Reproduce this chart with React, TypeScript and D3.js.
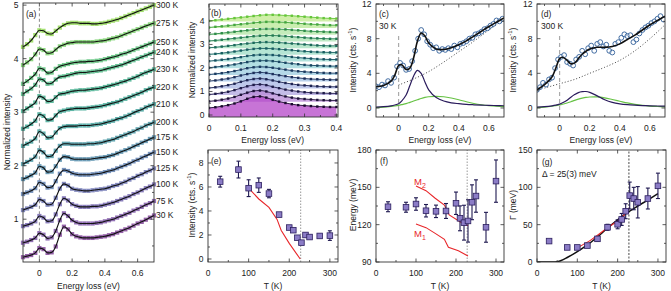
import React from "react";
import * as d3 from "d3";

const FONT = "'Liberation Sans', Arial, Helvetica, sans-serif";

// ---------------- Panel (a): waterfall of RIXS spectra ----------------
const aEnergy = [-0.1, -0.075, -0.05, -0.025, 0, 0.025, 0.05, 0.075, 0.1, 0.125, 0.15, 0.175, 0.2, 0.225, 0.25, 0.275, 0.3, 0.325, 0.35, 0.375, 0.4, 0.425, 0.45, 0.475, 0.5, 0.525, 0.55, 0.575, 0.6, 0.625, 0.65, 0.675, 0.7];
const aTemps = ["30 K", "75 K", "100 K", "125 K", "150 K", "175 K", "200 K", "210 K", "220 K", "230 K", "240 K", "250 K", "275 K", "300 K"];
const aOffsets = [0.29, 0.56, 0.87, 1.17, 1.47, 1.75, 2.03, 2.37, 2.69, 3.02, 3.34, 3.53, 3.88, 4.22];
const aS30 = [0, 0.02, 0.04, 0.08, 0.17, 0.15, 0.08, 0.09, 0.2, 0.42, 0.57, 0.52, 0.43, 0.39, 0.37, 0.36, 0.36, 0.36, 0.37, 0.38, 0.39, 0.41, 0.43, 0.46, 0.49, 0.52, 0.55, 0.59, 0.63, 0.66, 0.7, 0.74, 0.78];
const aS75 = [0, 0.02, 0.05, 0.09, 0.18, 0.15, 0.08, 0.1, 0.22, 0.42, 0.55, 0.5, 0.42, 0.38, 0.36, 0.36, 0.36, 0.36, 0.37, 0.38, 0.4, 0.42, 0.44, 0.47, 0.5, 0.53, 0.56, 0.6, 0.63, 0.67, 0.71, 0.74, 0.78];
const aS100 = [0, 0.02, 0.05, 0.09, 0.19, 0.16, 0.09, 0.1, 0.22, 0.41, 0.52, 0.48, 0.41, 0.38, 0.36, 0.36, 0.36, 0.37, 0.37, 0.38, 0.4, 0.42, 0.44, 0.47, 0.5, 0.53, 0.56, 0.6, 0.63, 0.67, 0.71, 0.74, 0.78];
const aS125 = [0, 0.03, 0.06, 0.1, 0.2, 0.17, 0.1, 0.11, 0.23, 0.4, 0.49, 0.46, 0.4, 0.38, 0.37, 0.36, 0.36, 0.37, 0.38, 0.39, 0.4, 0.42, 0.45, 0.47, 0.5, 0.53, 0.57, 0.6, 0.64, 0.67, 0.71, 0.74, 0.78];
const aS150 = [0, 0.03, 0.06, 0.11, 0.22, 0.19, 0.12, 0.13, 0.24, 0.38, 0.45, 0.43, 0.39, 0.37, 0.36, 0.36, 0.36, 0.37, 0.38, 0.39, 0.41, 0.43, 0.45, 0.48, 0.51, 0.54, 0.57, 0.61, 0.64, 0.68, 0.71, 0.75, 0.78];
const aS175 = [0, 0.03, 0.07, 0.12, 0.24, 0.21, 0.13, 0.14, 0.24, 0.36, 0.42, 0.41, 0.38, 0.37, 0.37, 0.37, 0.37, 0.38, 0.39, 0.4, 0.41, 0.43, 0.45, 0.48, 0.51, 0.54, 0.57, 0.61, 0.64, 0.68, 0.71, 0.75, 0.78];
const aS200 = [0, 0.04, 0.08, 0.14, 0.26, 0.22, 0.14, 0.15, 0.25, 0.34, 0.38, 0.38, 0.37, 0.37, 0.37, 0.37, 0.38, 0.38, 0.39, 0.4, 0.42, 0.44, 0.46, 0.49, 0.52, 0.55, 0.58, 0.61, 0.65, 0.68, 0.72, 0.75, 0.78];
const aS210 = [0, 0.04, 0.08, 0.14, 0.27, 0.23, 0.15, 0.16, 0.25, 0.33, 0.36, 0.37, 0.37, 0.37, 0.38, 0.38, 0.38, 0.39, 0.4, 0.41, 0.43, 0.45, 0.47, 0.5, 0.52, 0.55, 0.58, 0.62, 0.65, 0.68, 0.72, 0.75, 0.78];
const aS220 = [0, 0.04, 0.09, 0.15, 0.27, 0.24, 0.16, 0.17, 0.25, 0.32, 0.34, 0.36, 0.37, 0.38, 0.38, 0.38, 0.39, 0.4, 0.41, 0.42, 0.44, 0.46, 0.48, 0.5, 0.53, 0.56, 0.59, 0.62, 0.65, 0.68, 0.72, 0.75, 0.78];
const aS230 = [0, 0.05, 0.1, 0.16, 0.28, 0.25, 0.18, 0.19, 0.26, 0.32, 0.33, 0.35, 0.37, 0.38, 0.39, 0.39, 0.4, 0.41, 0.42, 0.43, 0.45, 0.47, 0.49, 0.51, 0.54, 0.56, 0.59, 0.62, 0.65, 0.69, 0.72, 0.75, 0.78];
const aS240 = [0, 0.05, 0.1, 0.17, 0.28, 0.26, 0.19, 0.2, 0.27, 0.32, 0.33, 0.35, 0.37, 0.39, 0.4, 0.4, 0.41, 0.42, 0.43, 0.44, 0.46, 0.48, 0.5, 0.52, 0.54, 0.57, 0.6, 0.63, 0.66, 0.69, 0.72, 0.75, 0.78];
const aS250 = [0, 0.05, 0.11, 0.18, 0.29, 0.27, 0.2, 0.21, 0.28, 0.33, 0.35, 0.37, 0.39, 0.4, 0.41, 0.41, 0.42, 0.42, 0.43, 0.44, 0.46, 0.48, 0.5, 0.52, 0.55, 0.57, 0.6, 0.63, 0.66, 0.69, 0.72, 0.75, 0.78];
const aS275 = [0, 0.05, 0.11, 0.2, 0.3, 0.28, 0.22, 0.23, 0.29, 0.35, 0.38, 0.41, 0.42, 0.43, 0.43, 0.43, 0.43, 0.43, 0.44, 0.45, 0.46, 0.48, 0.5, 0.52, 0.55, 0.58, 0.61, 0.64, 0.67, 0.7, 0.73, 0.76, 0.78];
const aS300 = [0, 0.05, 0.12, 0.22, 0.31, 0.3, 0.25, 0.24, 0.3, 0.36, 0.41, 0.44, 0.45, 0.45, 0.44, 0.44, 0.44, 0.43, 0.43, 0.44, 0.45, 0.47, 0.49, 0.51, 0.54, 0.57, 0.6, 0.63, 0.66, 0.69, 0.72, 0.75, 0.78];
const aSpectra = [aS30, aS75, aS100, aS125, aS150, aS175, aS200, aS210, aS220, aS230, aS240, aS250, aS275, aS300];

// ---------------- Panel (b): subtracted spectra ----------------
const bEnergy = [0, 0.02, 0.04, 0.06, 0.08, 0.1, 0.12, 0.14, 0.16, 0.18, 0.2, 0.22, 0.24, 0.26, 0.28, 0.3, 0.32, 0.34, 0.36, 0.38, 0.4];
const bOffsets = [0.3, 0.58, 0.87, 1.15, 1.44, 1.72, 2.01, 2.29, 2.58, 2.86, 3.15, 3.43, 3.72, 4.0];
const bS30 = [0, 0.03, 0.07, 0.12, 0.19, 0.28, 0.39, 0.47, 0.49, 0.44, 0.35, 0.27, 0.21, 0.16, 0.12, 0.1, 0.08, 0.06, 0.05, 0.04, 0.04];
const bS75 = [0, 0.03, 0.07, 0.12, 0.19, 0.28, 0.37, 0.44, 0.46, 0.42, 0.34, 0.27, 0.21, 0.16, 0.12, 0.1, 0.08, 0.06, 0.05, 0.04, 0.04];
const bS100 = [0, 0.03, 0.07, 0.12, 0.19, 0.27, 0.35, 0.41, 0.43, 0.4, 0.33, 0.27, 0.21, 0.17, 0.13, 0.1, 0.08, 0.07, 0.06, 0.05, 0.05];
const bS125 = [0, 0.03, 0.07, 0.12, 0.18, 0.26, 0.33, 0.38, 0.4, 0.37, 0.32, 0.26, 0.21, 0.17, 0.13, 0.11, 0.09, 0.07, 0.06, 0.05, 0.05];
const bS150 = [0, 0.03, 0.07, 0.11, 0.17, 0.24, 0.3, 0.35, 0.37, 0.35, 0.3, 0.25, 0.21, 0.17, 0.14, 0.11, 0.09, 0.08, 0.07, 0.06, 0.06];
const bS175 = [0, 0.03, 0.06, 0.1, 0.15, 0.21, 0.27, 0.31, 0.33, 0.32, 0.29, 0.25, 0.21, 0.17, 0.14, 0.12, 0.1, 0.08, 0.07, 0.06, 0.06];
const bS200 = [0, 0.03, 0.06, 0.1, 0.14, 0.19, 0.24, 0.28, 0.3, 0.3, 0.28, 0.25, 0.21, 0.18, 0.15, 0.12, 0.1, 0.09, 0.08, 0.07, 0.07];
const bS210 = [0, 0.03, 0.06, 0.09, 0.13, 0.17, 0.22, 0.25, 0.27, 0.27, 0.26, 0.24, 0.21, 0.18, 0.15, 0.13, 0.11, 0.09, 0.08, 0.07, 0.07];
const bS220 = [0, 0.02, 0.05, 0.08, 0.12, 0.16, 0.2, 0.23, 0.25, 0.25, 0.24, 0.22, 0.2, 0.18, 0.15, 0.13, 0.11, 0.1, 0.09, 0.08, 0.08];
const bS230 = [0, 0.02, 0.05, 0.08, 0.11, 0.15, 0.18, 0.21, 0.23, 0.24, 0.23, 0.22, 0.2, 0.18, 0.16, 0.14, 0.12, 0.1, 0.09, 0.08, 0.08];
const bS240 = [0, 0.02, 0.05, 0.08, 0.11, 0.14, 0.17, 0.2, 0.22, 0.23, 0.23, 0.22, 0.2, 0.18, 0.16, 0.14, 0.12, 0.11, 0.1, 0.09, 0.09];
const bS250 = [0, 0.02, 0.05, 0.08, 0.11, 0.14, 0.17, 0.2, 0.22, 0.23, 0.23, 0.22, 0.21, 0.19, 0.17, 0.15, 0.13, 0.12, 0.11, 0.1, 0.09];
const bS275 = [0, 0.03, 0.05, 0.08, 0.11, 0.14, 0.17, 0.2, 0.22, 0.24, 0.24, 0.23, 0.22, 0.2, 0.18, 0.16, 0.14, 0.13, 0.11, 0.1, 0.1];
const bS300 = [0, 0.03, 0.06, 0.09, 0.12, 0.15, 0.18, 0.21, 0.24, 0.26, 0.26, 0.25, 0.23, 0.22, 0.2, 0.18, 0.16, 0.14, 0.12, 0.11, 0.1];
const bSpectra = [bS30, bS75, bS100, bS125, bS150, bS175, bS200, bS210, bS220, bS230, bS240, bS250, bS275, bS300];

// ---------------- Panels (c), (d): fits ----------------
const cEnergy = [-0.15, -0.13, -0.11, -0.09, -0.07, -0.05, -0.03, -0.01, 0.01, 0.03, 0.05, 0.07, 0.09, 0.11, 0.13, 0.15, 0.17, 0.19, 0.21, 0.23, 0.25, 0.27, 0.29, 0.31, 0.33, 0.35, 0.37, 0.39, 0.41, 0.43, 0.45, 0.47, 0.49, 0.51, 0.53, 0.55, 0.57, 0.59, 0.61, 0.63, 0.65, 0.67, 0.69];
const cCounts30 = [2.5, 2.4, 2.7, 2.6, 3.1, 2.9, 3.5, 4.8, 5.2, 4.9, 4.4, 4.5, 5.4, 6.6, 8.0, 9.0, 8.5, 7.7, 7.3, 6.9, 7.0, 6.6, 6.8, 6.7, 6.9, 6.8, 7.2, 7.0, 7.4, 7.5, 7.7, 8.0, 8.1, 8.5, 8.6, 8.8, 9.1, 9.2, 9.5, 9.7, 10.1, 10.0, 10.3];
const dCounts300 = [2.1, 2.4, 2.9, 2.7, 3.3, 3.5, 4.6, 5.6, 5.9, 6.1, 5.3, 5.1, 4.9, 5.6, 5.9, 6.6, 6.2, 6.9, 7.2, 6.6, 7.4, 7.6, 7.1, 7.3, 6.6, 6.4, 7.4, 7.6, 8.1, 8.5, 8.3, 8.4, 7.6, 7.9, 8.6, 9.0, 9.3, 9.5, 9.8, 10.0, 10.3, 10.6, 10.2];
const fitEnergy = [-0.15, -0.1, -0.05, -0.025, 0, 0.02, 0.05, 0.075, 0.1, 0.125, 0.15, 0.175, 0.2, 0.25, 0.3, 0.35, 0.4, 0.45, 0.5, 0.55, 0.6, 0.65, 0.7];
const cFit = [2.45, 2.6, 3.1, 3.8, 4.9, 5.0, 4.45, 4.6, 5.8, 7.7, 8.65, 8.3, 7.5, 6.8, 6.75, 6.95, 7.3, 7.75, 8.3, 8.85, 9.4, 9.9, 10.4];
const cMagnon = [0.1, 0.15, 0.25, 0.35, 0.5, 0.8, 1.5, 2.6, 3.7, 4.35, 4.0, 3.0, 2.1, 1.2, 0.8, 0.6, 0.5, 0.42, 0.37, 0.33, 0.3, 0.28, 0.26];
const cBroad = [0.05, 0.1, 0.18, 0.23, 0.3, 0.38, 0.5, 0.65, 0.8, 0.95, 1.1, 1.22, 1.3, 1.35, 1.3, 1.15, 0.95, 0.72, 0.52, 0.37, 0.27, 0.2, 0.15];
const cBgEnergy = [0, 0.1, 0.2, 0.3, 0.4, 0.5, 0.6, 0.7];
const cBg = [2.65, 3.35, 4.2, 5.3, 6.5, 7.7, 9.0, 10.2];
const dFit = [2.1, 2.7, 3.6, 4.6, 5.7, 5.85, 5.5, 5.1, 5.2, 5.7, 6.2, 6.55, 6.8, 7.0, 7.0, 7.1, 7.4, 7.9, 8.4, 9.0, 9.6, 10.1, 10.6];
const dMagnon = [0.1, 0.15, 0.25, 0.33, 0.45, 0.6, 0.9, 1.25, 1.55, 1.78, 1.88, 1.9, 1.8, 1.4, 0.95, 0.65, 0.48, 0.38, 0.32, 0.28, 0.25, 0.23, 0.22];
const dBroad = [0.05, 0.1, 0.2, 0.27, 0.35, 0.43, 0.57, 0.72, 0.88, 1.02, 1.13, 1.22, 1.27, 1.28, 1.17, 0.98, 0.78, 0.58, 0.42, 0.3, 0.22, 0.17, 0.13];
const dBgEnergy = [-0.1, 0, 0.1, 0.2, 0.3, 0.4, 0.5, 0.6, 0.7];
const dBg = [2.3, 2.8, 3.3, 4.0, 4.7, 5.5, 6.6, 8.0, 9.6];

// ---------------- Panels (e), (f), (g): temperature dependence ----------------
const tempsK = [30, 75, 100, 125, 150, 175, 200, 210, 220, 230, 240, 250, 275, 300];
const eIntensity = [6.44, 7.45, 5.9, 6.15, 5.45, 3.7, 2.62, 2.4, 1.77, 1.36, 2.0, 1.83, 1.92, 1.95];
const eErr = [0.45, 0.7, 0.7, 0.6, 0.35, 0.15, 0.15, 0.15, 0.15, 0.15, 0.15, 0.15, 0.15, 0.4];
const fEnergy = [134.4, 134, 136.6, 131.2, 130.7, 131, 137.2, 125.1, 121.6, 123, 138, 143, 117.9, 155];
const fErr = [4, 4, 5, 5, 5, 6, 9, 10, 14, 17, 14, 13, 12, 17];
const gGamma = [28, 19.5, 19.5, 22, 31, 46.5, 50.5, 57, 68, 89, 85, 80, 85, 102];
const gErr = [2, 1.5, 1.5, 2, 3, 4, 6, 8, 10, 18, 15, 21, 14, 17];
const eModelT = [100, 125, 150, 170, 180, 200, 227];
const eModelV = [5.9, 5.0, 4.3, 3.3, 2.4, 1.3, 0];
const fM2T = [100, 125, 148, 171, 183, 210, 230];
const fM2V = [151, 147.3, 141.2, 135.8, 127.8, 122.4, 119.2];
const fM1T = [100, 125, 148, 171, 181, 206, 230];
const fM1V = [120.5, 117.6, 113, 108.2, 101.8, 99, 94.8];
const gFitT = [0, 40, 50, 60, 75, 100, 125, 150, 175, 200, 225, 250, 275, 300];
const gFitV = [0, 0, 0.5, 2, 6, 14, 23, 33.5, 45.5, 56.5, 66.5, 75, 83, 91.5];
const gRedT = [100, 135, 175, 218, 230];
const gRedV = [19, 30, 46, 64, 73];
const tcK = 228;

// tick values
const aXMajor = [0, 0.2, 0.4, 0.6];
const aXMinor = [0.1, 0.3, 0.5];
const aYMajor = [1, 2, 3, 4, 5];
const aYMinor = [0.5, 1.5, 2.5, 3.5, 4.5];
const bXMajor = [0, 0.1, 0.2, 0.3, 0.4];
const bXMinor = [0.05, 0.15, 0.25, 0.35];
const bYMajor = [0, 1, 2, 3, 4];
const bYMinor = [0.5, 1.5, 2.5, 3.5, 4.5];
const cdXMajor = [0, 0.2, 0.4, 0.6];
const cdXMinor = [-0.1, 0.1, 0.3, 0.5];
const cdYMajor = [0, 4, 8, 12];
const cdYMinor = [2, 6, 10];
const tXMajor = [0, 100, 200, 300];
const tXMinor = [50, 150, 250];
const eYMajor = [0, 2, 4, 6, 8];
const eYMinor = [1, 3, 5, 7];
const fYMajor = [90, 120, 150, 180];
const fYMinor = [105, 135, 165];
const gYMajor = [0, 50, 100, 150];
const gYMinor = [25, 75, 125];

// styles
const aColors = ["#9562a8", "#9270b4", "#8a7ebc", "#848abf", "#7894bd", "#6e9eb8", "#66a8b2", "#60b0ac", "#5eb6a6", "#62bca0", "#6ac498", "#76cc90", "#8cd680", "#a4e070"];
const bFills = ["#b446c8", "#b98ad8", "#b0a6e0", "#a8b6e4", "#a2c2e4", "#9ccce0", "#98d4da", "#98d8d0", "#9cdcc6", "#a2e0bc", "#a8e2b0", "#b0e6a4", "#b8e896", "#c0ea8c"];
const bDots = ["#1a0a2e", "#1c1038", "#1e1a48", "#1e2452", "#1c2e5a", "#1a3a60", "#184662", "#165262", "#165e60", "#1a6a5a", "#227a52", "#2e8c48", "#44a63e", "#66c63a"];

type Sc = d3.ScaleLinear<number, number>;

// scales
const xa = d3.scaleLinear().domain([-0.1, 0.7]).range([23, 154]);
const ya = d3.scaleLinear().domain([0.2, 5.04]).range([262, 3]);
const xb = d3.scaleLinear().domain([0, 0.405]).range([209, 338]);
const yb = d3.scaleLinear().domain([-0.085, 4.72]).range([117, 4]);
const xc = d3.scaleLinear().domain([-0.15, 0.7]).range([376, 504]);
const yc = d3.scaleLinear().domain([-1.04, 12]).range([117, 4]);
const xd = d3.scaleLinear().domain([-0.15, 0.7]).range([537, 665]);
const yd = yc;
const xe = d3.scaleLinear().domain([0, 320]).range([208, 338]);
const ye = d3.scaleLinear().domain([-0.25, 9.08]).range([262, 150]);
const xf = d3.scaleLinear().domain([0, 320]).range([376, 504]);
const yf = d3.scaleLinear().domain([90, 180]).range([262, 150]);
const xg = d3.scaleLinear().domain([0, 320]).range([537, 666]);
const yg = d3.scaleLinear().domain([0, 150]).range([262, 150]);

function linePath(xs: Sc, ys: Sc, X: number[], Y: number[], curve: any = d3.curveMonotoneX) {
  return d3.line<number>().x((_, i) => xs(X[i])).y((d) => ys(d)).curve(curve)(Y) || "";
}
function areaPath(xs: Sc, ys: Sc, X: number[], Y: number[], base: number) {
  return d3.area<number>().x((_, i) => xs(X[i])).y0(ys(base)).y1((d) => ys(d)).curve(d3.curveMonotoneX)(Y) || "";
}

function Frame(p: { xs: Sc; ys: Sc; xMajor: number[]; xMinor: number[]; yMajor: number[]; yMinor: number[]; yLabels?: boolean }) {
  const { xs, ys } = p;
  const [xl, xr] = xs.range();
  const [yB, yT] = ys.range();
  const ticks: React.ReactNode[] = [];
  const labels: React.ReactNode[] = [];
  const M = 3.5, m = 2;
  const addX = (v: number, L: number, k: string) => {
    const x = xs(v);
    ticks.push(<line key={"xb" + k} x1={x} x2={x} y1={yB} y2={yB - L} />);
    ticks.push(<line key={"xt" + k} x1={x} x2={x} y1={yT} y2={yT + L} />);
  };
  const addY = (v: number, L: number, k: string) => {
    const y = ys(v);
    ticks.push(<line key={"yl" + k} x1={xl} x2={xl + L} y1={y} y2={y} />);
    ticks.push(<line key={"yr" + k} x1={xr} x2={xr - L} y1={y} y2={y} />);
  };
  p.xMajor.forEach((v, i) => {
    addX(v, M, "M" + i);
    labels.push(<text key={"xl" + i} x={xs(v)} y={yB + 13.5} textAnchor="middle">{String(v)}</text>);
  });
  p.xMinor.forEach((v, i) => addX(v, m, "m" + i));
  p.yMajor.forEach((v, i) => {
    addY(v, M, "M" + i);
    if (p.yLabels !== false) labels.push(<text key={"yl" + i} x={xl - 4.5} y={ys(v) + 3} textAnchor="end">{String(v)}</text>);
  });
  p.yMinor.forEach((v, i) => addY(v, m, "m" + i));
  return (
    <g>
      <g stroke="#333" strokeWidth={0.8}>{ticks}</g>
      <rect x={xl} y={yT} width={xr - xl} height={yB - yT} fill="none" stroke="#333" strokeWidth={0.9} />
      <g fontSize={8.5} fill="#222">{labels}</g>
    </g>
  );
}

function YLabel({ x, y, children }: { x: number; y: number; children: React.ReactNode }) {
  return (
    <text transform={`translate(${x},${y}) rotate(-90)`} textAnchor="middle" dominantBaseline="central" fontSize={8.5} fill="#222">
      {children}
    </text>
  );
}

function IntensityLabel() {
  return (
    <>
      Intensity (cts. s<tspan dy={-3} fontSize={6}>-1</tspan><tspan dy={3}>)</tspan>
    </>
  );
}

function Square({ x, y, s, fill, stroke, sw = 0.8 }: any) {
  return <rect x={x - s / 2} y={y - s / 2} width={s} height={s} fill={fill} stroke={stroke} strokeWidth={sw} />;
}

function TPanel({ xs, ys, vals, errs }: { xs: Sc; ys: Sc; vals: number[]; errs: number[] }) {
  return (
    <g>
      {tempsK.map((t, i) => {
        const x = xs(t);
        const y1 = ys(vals[i] - errs[i]);
        const y2 = ys(vals[i] + errs[i]);
        return (
          <g key={i} stroke="#1e1850" strokeWidth={1.1}>
            <line x1={x} x2={x} y1={y1} y2={y2} />
            <line x1={x - 2} x2={x + 2} y1={y1} y2={y1} />
            <line x1={x - 2} x2={x + 2} y1={y2} y2={y2} />
          </g>
        );
      })}
      {tempsK.map((t, i) => (
        <Square key={"s" + i} x={xs(t)} y={ys(vals[i])} s={5.6} fill="#8b7cc6" stroke="#2c1f5e" sw={0.8} />
      ))}
    </g>
  );
}

function FitPanel(p: { xs: Sc; ys: Sc; counts: number[]; fit: number[]; mag: number[]; broad: number[]; bgE: number[]; bg: number[]; id: string }) {
  const { xs, ys } = p;
  const [xl, xr] = xs.range();
  const [yB, yT] = ys.range();
  return (
    <g>
      <clipPath id={p.id}><rect x={xl} y={yT} width={xr - xl} height={yB - yT} /></clipPath>
      <g clipPath={`url(#${p.id})`}>
        <line x1={xs(0)} x2={xs(0)} y1={yB} y2={ys(8.3)} stroke="#aaa" strokeWidth={1.2} strokeDasharray="4,3" />
        <path d={linePath(xs, ys, fitEnergy, p.broad, d3.curveCatmullRom)} fill="none" stroke="#66c244" strokeWidth={1.2} />
        <path d={linePath(xs, ys, fitEnergy, p.mag, d3.curveCatmullRom)} fill="none" stroke="#2a1b5c" strokeWidth={1.2} />
        <path d={linePath(xs, ys, p.bgE, p.bg, d3.curveCatmullRom)} fill="none" stroke="#444" strokeWidth={1} strokeDasharray="1,2" />
        {cEnergy.map((e, i) => (
          <circle key={i} cx={xs(e)} cy={ys(p.counts[i])} r={2.4} fill="#fff" fillOpacity={0.5} stroke="#2f5d98" strokeWidth={0.9} />
        ))}
        <path d={linePath(xs, ys, fitEnergy, p.fit, d3.curveCatmullRom)} fill="none" stroke="#111" strokeWidth={1.6} />
      </g>
    </g>
  );
}

export default function App() {
  const bBase0 = -0.085;
  return (
    <svg width={671} height={291} viewBox="0 0 671 291" style={{ position: "absolute", left: 0, top: 0, background: "#fff" }} fontFamily={FONT}>
      <rect x={0} y={0} width={671} height={291} fill="#fff" />

      {/* ---------- (a) ---------- */}
      <line x1={xa(0)} x2={xa(0)} y1={ya(4.95)} y2={ya(0.25)} stroke="#888" strokeWidth={1} strokeDasharray="3,2.5" />
      {aSpectra.map((s, i) => (
        <g key={"as" + i}>
          {s.map((v, j) => (
            <Square key={j} x={xa(aEnergy[j])} y={ya(aOffsets[i] + v)} s={4.2} fill={aColors[i]} stroke="none" />
          ))}
        </g>
      ))}
      {aSpectra.map((s, i) => (
        <path key={"al" + i} d={linePath(xa, ya, aEnergy, s.map((v) => v + aOffsets[i]))} fill="none" stroke="#111" strokeWidth={1.1} />
      ))}
      <Frame xs={xa} ys={ya} xMajor={aXMajor} xMinor={aXMinor} yMajor={aYMajor} yMinor={aYMinor} />
      <g fontSize={8.5} fill="#222">
        {aTemps.map((t, i) => (
          <text key={t} x={156} y={ya(aOffsets[i] + aSpectra[i][aSpectra[i].length - 1]) + 3}>{t}</text>
        ))}
        <text x={26} y={17}>(a)</text>
        <text x={xa(0.3)} y={289} textAnchor="middle">Energy loss (eV)</text>
      </g>
      <YLabel x={7} y={132}>Normalized intensity</YLabel>

      {/* ---------- (b) ---------- */}
      <clipPath id="clipb"><rect x={209} y={4} width={129} height={113} /></clipPath>
      <g clipPath="url(#clipb)">
        {bSpectra.map((s, i) => {
          const k = bSpectra.length - 1 - i;
          const sp = bSpectra[k];
          return (
            <path key={"bf" + k} d={areaPath(xb, yb, bEnergy, sp.map((v) => v + bOffsets[k]), k === 0 ? bBase0 : bOffsets[k] - 0.02)} fill={bFills[k]} fillOpacity={0.75} stroke="none" />
          );
        })}
        {bSpectra.map((s, i) => (
          <g key={"bl" + i}>
            <path d={linePath(xb, yb, bEnergy, s.map((v) => v + bOffsets[i]))} fill="none" stroke={bDots[i]} strokeWidth={0.9} />
            {s.map((v, j) => (
              <Square key={j} x={xb(bEnergy[j])} y={yb(bOffsets[i] + v)} s={2.4} fill={bDots[i]} stroke="none" />
            ))}
          </g>
        ))}
      </g>
      <Frame xs={xb} ys={yb} xMajor={bXMajor} xMinor={bXMinor} yMajor={bYMajor} yMinor={bYMinor} />
      <g fontSize={8.5} fill="#222">
        <text x={211} y={16}>(b)</text>
        <text x={xb(0.2)} y={143} textAnchor="middle">Energy loss (eV)</text>
      </g>
      <YLabel x={192} y={60}>Normalized intensity</YLabel>

      {/* ---------- (c) ---------- */}
      <FitPanel id="clipc" xs={xc} ys={yc} counts={cCounts30} fit={cFit} mag={cMagnon} broad={cBroad} bgE={cBgEnergy} bg={cBg} />
      <Frame xs={xc} ys={yc} xMajor={cdXMajor} xMinor={cdXMinor} yMajor={cdYMajor} yMinor={cdYMinor} />
      <g fontSize={8.5} fill="#222">
        <text x={379} y={17}>(c)</text>
        <text x={379} y={28.5}>30 K</text>
        <text x={xc(0.275)} y={143} textAnchor="middle">Energy loss (eV)</text>
      </g>
      <YLabel x={353} y={60}><IntensityLabel /></YLabel>

      {/* ---------- (d) ---------- */}
      <FitPanel id="clipd" xs={xd} ys={yd} counts={dCounts300} fit={dFit} mag={dMagnon} broad={dBroad} bgE={dBgEnergy} bg={dBg} />
      <Frame xs={xd} ys={yd} xMajor={cdXMajor} xMinor={cdXMinor} yMajor={cdYMajor} yMinor={cdYMinor} />
      <g fontSize={8.5} fill="#222">
        <text x={541} y={17}>(d)</text>
        <text x={541} y={28.5}>300 K</text>
        <text x={xd(0.275)} y={143} textAnchor="middle">Energy loss (eV)</text>
      </g>
      <YLabel x={513} y={60}><IntensityLabel /></YLabel>

      {/* ---------- (e) ---------- */}
      <line x1={xe(tcK)} x2={xe(tcK)} y1={262} y2={150} stroke="#aaa" strokeWidth={1.2} strokeDasharray="1.5,1.5" />
      <path d={linePath(xe, ye, eModelT, eModelV, d3.curveLinear)} fill="none" stroke="#e8262a" strokeWidth={1.1} />
      <TPanel xs={xe} ys={ye} vals={eIntensity} errs={eErr} />
      <Frame xs={xe} ys={ye} xMajor={tXMajor} xMinor={tXMinor} yMajor={eYMajor} yMinor={eYMinor} />
      <g fontSize={8.5} fill="#222">
        <text x={211} y={164}>(e)</text>
        <text x={xe(160)} y={289} textAnchor="middle">T (K)</text>
      </g>
      <YLabel x={192} y={205}><IntensityLabel /></YLabel>

      {/* ---------- (f) ---------- */}
      <line x1={xf(tcK)} x2={xf(tcK)} y1={262} y2={150} stroke="#aaa" strokeWidth={1.2} strokeDasharray="1.5,1.5" />
      <path d={linePath(xf, yf, fM2T, fM2V, d3.curveLinear)} fill="none" stroke="#e8262a" strokeWidth={1.1} />
      <path d={linePath(xf, yf, fM1T, fM1V, d3.curveLinear)} fill="none" stroke="#e8262a" strokeWidth={1.1} />
      <TPanel xs={xf} ys={yf} vals={fEnergy} errs={fErr} />
      <Frame xs={xf} ys={yf} xMajor={tXMajor} xMinor={tXMinor} yMajor={fYMajor} yMinor={fYMinor} />
      <g fontSize={8.5} fill="#222">
        <text x={380} y={164}>(f)</text>
        <text x={xf(160)} y={289} textAnchor="middle">T (K)</text>
      </g>
      <g fontSize={9.5} fill="#e8262a">
        <text x={414} y={185}>M<tspan dy={2.5} fontSize={7}>2</tspan></text>
        <text x={414} y={237}>M<tspan dy={2.5} fontSize={7}>1</tspan></text>
      </g>
      <YLabel x={353} y={205}>Energy (meV)</YLabel>

      {/* ---------- (g) ---------- */}
      <clipPath id="clipg"><rect x={537} y={150} width={129} height={112} /></clipPath>
      <line x1={xg(tcK)} x2={xg(tcK)} y1={262} y2={150} stroke="#333" strokeWidth={0.9} strokeDasharray="2,1.5" />
      <g clipPath="url(#clipg)">
        <path d={linePath(xg, yg, gFitT, gFitV)} fill="none" stroke="#111" strokeWidth={1.5} />
      </g>
      <path d={linePath(xg, yg, gRedT, gRedV)} fill="none" stroke="#e8262a" strokeWidth={1.1} />
      <TPanel xs={xg} ys={yg} vals={gGamma} errs={gErr} />
      <Frame xs={xg} ys={yg} xMajor={tXMajor} xMinor={tXMinor} yMajor={gYMajor} yMinor={gYMinor} />
      <g fontSize={8.5} fill="#222">
        <text x={542} y={165}>(g)</text>
        <text x={542} y={176.5}>Δ = 25(3) meV</text>
        <text x={xg(160)} y={289} textAnchor="middle">T (K)</text>
      </g>
      <YLabel x={513} y={205}>Γ (meV)</YLabel>
    </svg>
  );
}
